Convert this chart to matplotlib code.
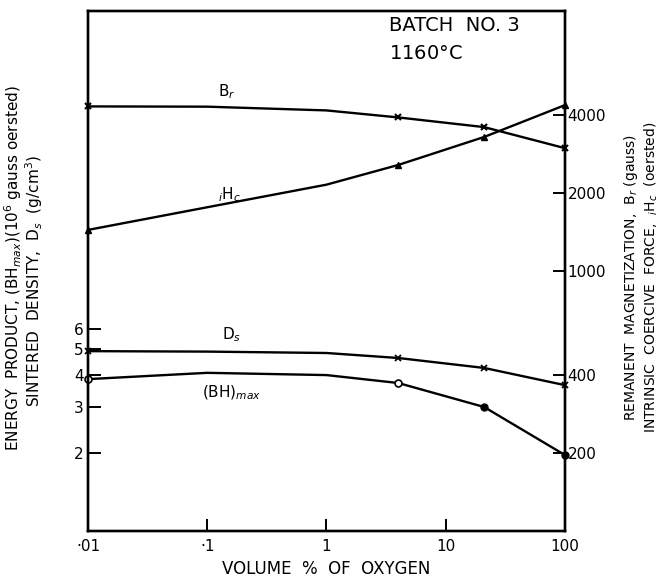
import numpy as np
import matplotlib
matplotlib.use("Agg")
import matplotlib.pyplot as plt
from matplotlib.ticker import FixedLocator, FixedFormatter, NullLocator

# measured points (markers)
x_pts = [0.01, 4, 21, 100]
br_pts = [4300, 3900, 3580, 2970]
ihc_pts = [1440, 2560, 3280, 4350]
ds_pts = [4.92, 4.63, 4.24, 3.64]
bh_pts = [3.84, 3.71, 3.0, 1.96]

# curve (lines)
x_curve = [0.01, 0.1, 1, 4, 21, 100]
br_curve = [4300, 4290, 4150, 3900, 3580, 2970]
ihc_curve = [1440, 1760, 2150, 2560, 3280, 4350]
ds_curve = [4.92, 4.90, 4.84, 4.63, 4.24, 3.64]
bh_curve = [3.84, 4.06, 3.98, 3.71, 3.0, 1.96]

x_ticks = [0.01, 0.1, 1, 10, 100]
x_labels = ["\u00b701", "\u00b71", "1", "10", "100"]
left_ticks = [2, 3, 4, 5, 6]
right_ticks = [200, 400, 1000, 2000, 4000]

plt.rcParams["font.family"] = ["DejaVu Sans"]
fig = plt.figure(figsize=(6.61, 5.77), dpi=100)
ax = fig.add_axes([0.1331, 0.0797, 0.7216, 0.901])
ax2 = ax.twinx()

ax.set_xscale("log")
ax.set_yscale("log")
ax2.set_yscale("log")
ax.set_xlim(0.01, 100)
ax.set_ylim(1, 100)
ax2.set_ylim(100, 10000)

lw = 1.7
ax2.plot(x_curve, br_curve, color="black", lw=lw)
ax2.plot(x_curve, ihc_curve, color="black", lw=lw)
ax.plot(x_curve, ds_curve, color="black", lw=lw)
ax.plot(x_curve, bh_curve, color="black", lw=lw)

ax2.plot(x_pts, br_pts, "x", color="black", ms=5, mew=1.5, clip_on=False)
ax2.plot(x_pts, ihc_pts, "^", color="black", ms=5, clip_on=False)
ax.plot(x_pts, ds_pts, "x", color="black", ms=4, mew=1.3, clip_on=False)
ax.plot(x_pts[:2], bh_pts[:2], "o", mfc="white", mec="black", ms=5, mew=1.2, clip_on=False)
ax.plot(x_pts[2:], bh_pts[2:], "o", color="black", ms=5, clip_on=False)

ax.xaxis.set_major_locator(FixedLocator(x_ticks))
ax.xaxis.set_major_formatter(FixedFormatter(x_labels))
ax.xaxis.set_minor_locator(NullLocator())
ax.yaxis.set_major_locator(FixedLocator(left_ticks))
ax.yaxis.set_major_formatter(FixedFormatter([str(v) for v in left_ticks]))
ax.yaxis.set_minor_locator(NullLocator())
ax2.yaxis.set_major_locator(FixedLocator(right_ticks))
ax2.yaxis.set_major_formatter(FixedFormatter([str(v) for v in right_ticks]))
ax2.yaxis.set_minor_locator(NullLocator())

for a in (ax, ax2):
    for s in a.spines.values():
        s.set_linewidth(1.7)
ax.tick_params(axis="x", direction="in", length=9, width=1.4, labelsize=11, pad=6)
ax.tick_params(axis="y", direction="in", length=9, width=1.4, labelsize=11, pad=3)
ax2.tick_params(axis="y", direction="in", length=9, width=1.4, labelsize=11, pad=2)

ax.set_xlabel("VOLUME  %  OF  OXYGEN", fontsize=12, labelpad=4)

fig.text(0.02, 0.535, "ENERGY  PRODUCT, (BH$_{max}$)(10$^6$ gauss oersted)",
         rotation=90, ha="center", va="center", fontsize=11)
fig.text(0.051, 0.513, "SINTERED  DENSITY,  D$_s$  (g/cm$^3$)",
         rotation=90, ha="center", va="center", fontsize=11)
fig.text(0.955, 0.52, "REMANENT  MAGNETIZATION,  B$_r$ (gauss)",
         rotation=90, ha="center", va="center", fontsize=10)
fig.text(0.985, 0.52, "INTRINSIC  COERCIVE  FORCE,  $_i$H$_c$  (oersted)",
         rotation=90, ha="center", va="center", fontsize=10)

ax.text(0.631, 0.973, "BATCH  NO. 3", transform=ax.transAxes, fontsize=14,
        ha="left", va="center")
ax.text(0.631, 0.919, "1160$\\degree$C", transform=ax.transAxes, fontsize=14,
        ha="left", va="center")

ax.text(0.147, 48.8, "B$_r$", fontsize=11, ha="center", va="center")
ax.text(0.155, 19.6, "$_i$H$_c$", fontsize=11, ha="center", va="center")
ax.text(0.161, 5.68, "D$_s$", fontsize=11, ha="center", va="center")
ax.text(0.161, 3.39, "(BH)$_{max}$", fontsize=11, ha="center", va="center")

fig.savefig("out.png", dpi=100)
